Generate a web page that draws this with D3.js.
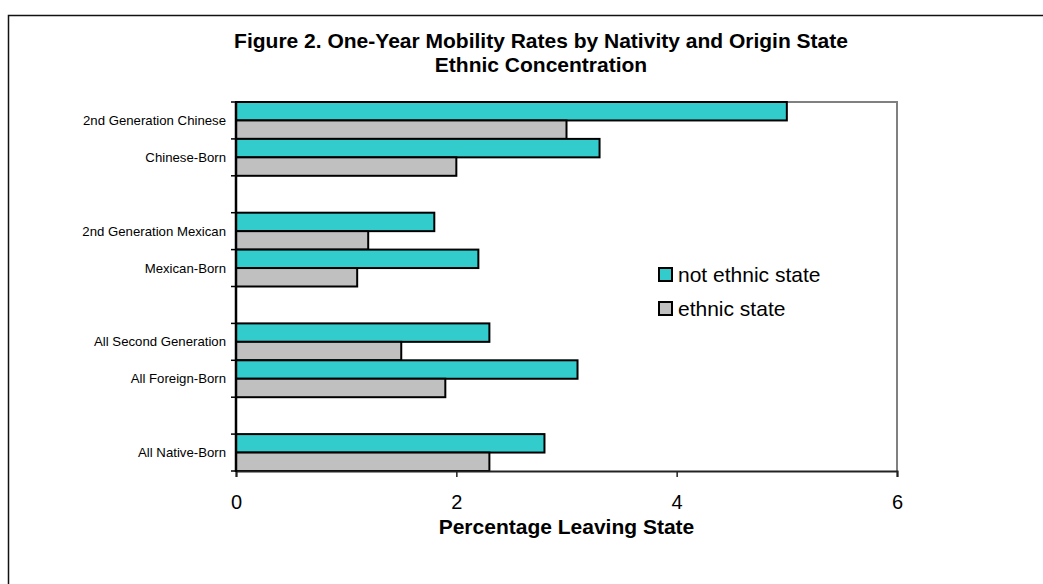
<!DOCTYPE html>
<html>
<head>
<meta charset="utf-8">
<script src="https://cdn.jsdelivr.net/npm/d3@7"></script>
<style>
  html, body { margin: 0; padding: 0; background: #fff; }
  svg { display: block; font-family: Arial, "Liberation Sans", sans-serif; }
</style>
</head>
<body>
<svg id="chart" width="1043" height="584"></svg>
<script>
// Category slots, top to bottom; empty strings are spacer slots between groups
const categories = [
  "2nd Generation Chinese", "Chinese-Born", "",
  "2nd Generation Mexican", "Mexican-Born", "",
  "All Second Generation", "All Foreign-Born", "",
  "All Native-Born"
];
// Percentage leaving state, per slot (null = spacer)
const notEthnicState = [5.0, 3.3, null, 1.8, 2.2, null, 2.3, 3.1, null, 2.8];
const ethnicState    = [3.0, 2.0, null, 1.2, 1.1, null, 1.5, 1.9, null, 2.3];
const seriesNames = ["not ethnic state", "ethnic state"];
const xTicks = [0, 2, 4, 6];
const titleLines = [
  "Figure 2. One-Year Mobility Rates by Nativity and Origin State",
  "Ethnic Concentration"
];
const xTitle = "Percentage Leaving State";

const colors = ["#33CCCC", "#C0C0C0"];
const svg = d3.select("#chart");

// Outer chart frame (runs past the right and bottom edges)
svg.append("rect")
  .attr("x", 8.5).attr("y", 15.5)
  .attr("width", 1100).attr("height", 700)
  .attr("fill", "#fff")
  .attr("stroke", "#111").attr("stroke-width", 1.5);

const plot = { left: 236, right: 897, top: 102, bottom: 471 };

const x = d3.scaleLinear().domain([0, 6]).range([plot.left, plot.right]);
const y = d3.scaleBand()
  .domain(d3.range(categories.length))
  .range([plot.top, plot.bottom])
  .paddingInner(0).paddingOuter(0);
const half = y.bandwidth() / 2;

// Plot area border: top and right in grey
svg.append("path")
  .attr("d", `M${plot.left},${plot.top}H${plot.right}V${plot.bottom}`)
  .attr("fill", "none").attr("stroke", "#808080").attr("stroke-width", 2);

// Title
svg.append("g").selectAll("text")
  .data(titleLines).join("text")
  .attr("x", 541).attr("y", (d, i) => 48 + i * 24)
  .attr("text-anchor", "middle")
  .attr("font-size", 21).attr("font-weight", "bold")
  .text(d => d);

// Bars
const rows = categories.map((c, i) => ({ i, c, v: [notEthnicState[i], ethnicState[i]] }))
  .filter(d => d.c !== "");
const bars = svg.append("g");
rows.forEach(r => {
  r.v.forEach((v, k) => {
    bars.append("rect")
      .attr("x", x(0))
      .attr("y", y(r.i) + k * half)
      .attr("width", x(v) - x(0))
      .attr("height", half)
      .attr("fill", colors[k])
      .attr("stroke", "#000").attr("stroke-width", 2);
  });
});

// X axis
const xAxis = d3.axisBottom(x).tickValues(xTicks).tickSize(6).tickPadding(18)
  .tickFormat(d3.format("d"));
const gx = svg.append("g").attr("transform", `translate(0,${plot.bottom})`).call(xAxis);
gx.select(".domain").attr("stroke", "#222").attr("stroke-width", 2);
gx.selectAll(".tick line").attr("stroke", "#222").attr("stroke-width", 1.5);
gx.selectAll(".tick text").attr("font-size", 20).attr("font-family", "Arial, 'Liberation Sans', sans-serif").attr("fill", "#000");

svg.append("text")
  .attr("x", (plot.left + plot.right) / 2).attr("y", 534)
  .attr("text-anchor", "middle")
  .attr("font-size", 21).attr("font-weight", "bold")
  .text(xTitle);

// Y axis: ticks at slot boundaries, labels centred in each slot
const gy = svg.append("g");
gy.selectAll("line.tick")
  .data(d3.range(categories.length + 1)).join("line")
  .attr("class", "tick")
  .attr("x1", plot.left - 5).attr("x2", plot.left)
  .attr("y1", i => plot.top + i * y.step()).attr("y2", i => plot.top + i * y.step())
  .attr("stroke", "#000").attr("stroke-width", 1.5);
gy.append("line")
  .attr("x1", plot.left).attr("x2", plot.left)
  .attr("y1", plot.top).attr("y2", plot.bottom + 1)
  .attr("stroke", "#000").attr("stroke-width", 2.5);
gy.selectAll("text")
  .data(rows).join("text")
  .attr("x", plot.left - 10)
  .attr("y", d => y(d.i) + y.bandwidth() / 2)
  .attr("dy", "0.35em")
  .attr("text-anchor", "end")
  .attr("font-size", 13.2)
  .text(d => d.c);

// Legend
const legend = svg.append("g").attr("transform", "translate(659,268)");
seriesNames.forEach((name, k) => {
  const g = legend.append("g").attr("transform", `translate(0,${k * 34})`);
  g.append("rect").attr("x", 0).attr("y", 0).attr("width", 13).attr("height", 13)
    .attr("fill", colors[k]).attr("stroke", "#000").attr("stroke-width", 2);
  g.append("text").attr("x", 19).attr("y", 7).attr("dy", "0.35em")
    .attr("font-size", 21).text(name);
});
</script>
</body>
</html>
